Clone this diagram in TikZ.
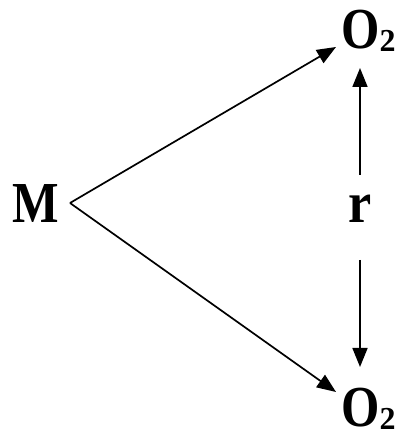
\documentclass[tikz,border=0pt]{standalone}
\usepackage{fontspec}
\setmainfont{Liberation Serif}
\usetikzlibrary{arrows.meta}
\newcommand{\oxy}{\scalebox{0.85}[1]{O}\raisebox{-3pt}{\fontsize{32}{32}\selectfont 2}}
\begin{document}
\begin{tikzpicture}[x=1pt,y=1pt,
  lbl/.style={font=\fontsize{58}{58}\selectfont\bfseries, inner sep=0pt},
  conn/.style={line width=1.7pt, -{Triangle[length=19pt,width=15pt]}}]
\useasboundingbox (0,0) rectangle (405,430);
\node[lbl, anchor=base] (M) at (36,207) {\scalebox{0.85}[1]{M}};
\node[lbl, anchor=base west] (Otop) at (341,381) {\oxy};
\node[lbl, anchor=base west] (Obot) at (341,3) {\oxy};
\node[lbl, anchor=base] (r) at (360,207) {\scalebox{0.9}[1]{r}};
\coordinate (apex) at (70,227);
\coordinate (ttip) at (336,383);
\coordinate (btip) at (336,38);
\coordinate (rtop) at (360,362);
\coordinate (rbot) at (360,63);
\coordinate (rup) at (360,255);
\coordinate (rdn) at (360,170);
\draw[conn] (apex) -- (ttip);
\draw[conn] (apex) -- (btip);
\draw[conn] (rup) -- (rtop);
\draw[conn] (rdn) -- (rbot);
\end{tikzpicture}
\end{document}
